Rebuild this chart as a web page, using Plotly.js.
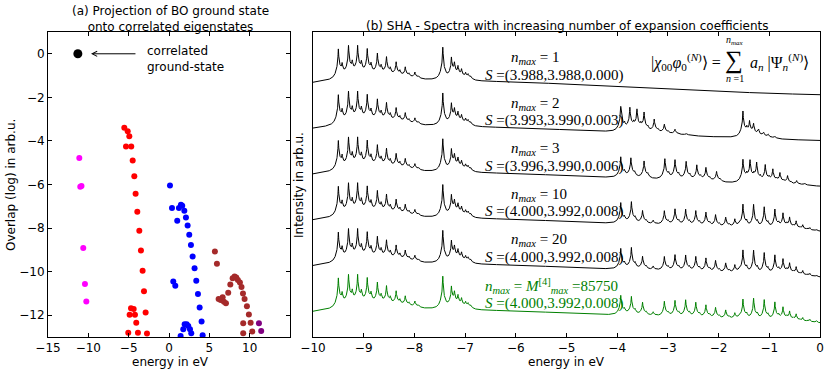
<!DOCTYPE html>
<html>
<head>
<meta charset="utf-8">
<script src="https://cdn.plot.ly/plotly-3.0.1.min.js"></script>
<style>
  html, body { margin: 0; padding: 0; background: white; }
  #plot { width: 830px; height: 372px; }
</style>
</head>
<body>
<div id="plot"></div>
<script>
// ---- (a) projection of BO ground state: energy (eV) vs log overlap ----
var gsE = [-11.3];
var gsO = [0];
var magE = [-11.12, -11.0, -10.85, -10.63, -10.42, -10.25];
var magO = [-4.78, -6.1, -6.07, -8.92, -10.57, -11.37];
var redE = [-5.54, -5.12, -4.92, -5.33, -4.68, -4.5, -4.3, -4.14, -3.93, -3.68, -3.48, -3.27, -3.1, -2.9,
            -4.71, -4.38, -4.88, -4.22, -4.06, -5.05, -3.85, -2.73];
var redO = [-3.39, -3.56, -3.79, -4.26, -4.26, -4.9, -5.62, -6.42, -7.25, -8.12, -9.03, -9.96, -10.9, -11.88,
            -11.68, -11.72, -11.98, -11.98, -12.35, -12.81, -12.8, -12.84];
var blueE = [0.12, 0.37, 1.23, 1.48, 1.64, 1.9, 1.02, 2.1, 2.31, 2.51, 2.72, 2.93, 3.17, 3.38, 3.59, 3.8, 4.04,
             0.53, 0.78, 1.94, 2.19, 2.39, 1.77, 2.6, 2.76, 1.44, 4.17];
var blueO = [-6.05, -7.08, -7.08, -6.93, -6.97, -7.2, -7.66, -7.51, -7.88, -8.31, -8.78, -9.3, -9.85, -10.42, -11.03, -11.65, -12.29,
             -10.45, -10.65, -12.41, -12.41, -12.49, -12.64, -12.64, -12.83, -12.95, -12.92];
var brownE = [5.69, 5.94, 7.89, 8.13, 8.34, 8.54, 7.6, 8.79, 8.99, 7.34, 9.17, 9.37, 6.65, 6.4, 6.15, 6.81, 7.06,
              9.66, 9.9, 9.2, 10.12, 9.2, 10.32];
var brownO = [-9.07, -9.64, -10.3, -10.22, -10.27, -10.38, -10.59, -10.5, -10.7, -10.97, -11.0, -11.26, -11.18, -11.3, -11.26, -11.38, -11.45,
              -11.59, -11.97, -12.37, -12.35, -12.83, -12.75];
var purpE = [11.15, 11.43];
var purpO = [-12.37, -12.72];

// ---- (b) spectra: peak positions (eV) and heights (arb.u.) ----
// comb and cluster shared by every spectrum
var combE = [-9.50, -9.30, -9.12, -8.93, -8.73, -8.55, -8.36, -8.18, -7.99];
var combH = [28, 29, 28, 25, 21, 18, 14, 10, 6];
var clusE = [-7.44, -7.27, -7.21, -7.14, -7.07, -6.99, -6.94, -6.89];
var clusH = [32, 19, 12, 10, 8, 5, 4, 3];
// satellite peak to the right of each main peak
var satShift = 0.075;
var satRatio = 0.35;
// slowly varying background bands: centre, height, width
var bgFloor = -17;
var bandC = [-7.5, -9.0];
var bandH = [16, 4];
var bandW = [3.8, 0.7];

// extra peaks between -4 and 0 eV for each n_max
var extraE = [
  [],
  [-3.93, -3.75, -3.61, -3.47, -3.27, -3.07, -2.86, -2.64, -1.52, -1.39, -1.31, -1.21, -1.11, -1.02, -0.89],
  [-3.93, -3.73, -3.47, -3.06, -2.86, -2.64, -2.43, -2.25, -2.04, -1.52, -1.38, -1.25, -1.08, -0.93, -0.79, -0.64, -0.46, -0.30],
  [-3.93, -3.72, -3.50, -3.29, -3.07, -2.86, -2.65, -2.45, -2.25, -2.06, -1.86, -1.68, -1.52, -1.31, -1.10, -0.89, -0.73, -0.60, -0.47, -0.34, -0.20, -0.07],
  [-3.93, -3.72, -3.50, -3.29, -3.07, -2.86, -2.65, -2.45, -2.25, -2.06, -1.86, -1.68, -1.52, -1.31, -1.10, -0.89, -0.73, -0.60, -0.47, -0.34, -0.20, -0.07],
  [-3.93, -3.72, -3.50, -3.29, -3.07, -2.86, -2.65, -2.45, -2.25, -2.06, -1.86, -1.68, -1.52, -1.31, -1.10, -0.89, -0.73, -0.60, -0.47, -0.34, -0.20, -0.07]
];
var extraH = [
  [],
  [24, 22, 20, 18, 13, 9, 5, 2, 25, 13, 9, 6, 4, 3, 2],
  [20, 19, 17, 20, 19, 18, 15, 13, 10, 22, 20, 18, 17, 13, 10, 8, 4, 2],
  [20, 21, 13, 4, 14, 16, 16, 15, 14, 12, 10, 8, 23, 23, 21, 19, 15, 11, 8, 5, 3, 2],
  [20, 21, 13, 4, 14, 16, 16, 15, 14, 12, 10, 8, 23, 23, 21, 19, 15, 11, 8, 5, 3, 2],
  [19, 18, 13, 4, 15, 16, 17, 15, 13, 11, 9, 6, 20, 21, 20, 18, 13, 9, 7, 4, 3, 2]
];
var nLabels = ['1', '2', '3', '10', '20', '<i>M</i><sup>[4]</sup><sub><i>max</i></sub> =85750'];
var sLabels = ['(3.988,3.988,0.000)', '(3.993,3.990,0.003)', '(3.996,3.990,0.006)',
               '(4.000,3.992,0.008)', '(4.000,3.992,0.008)', '(4.000,3.992,0.008)'];
var lineColors = ['black', 'black', 'black', 'black', 'black', 'rgb(0,128,0)'];

// line shape: sharp spike on a wider foot
var g1 = 0.008, g2 = 0.05, w1 = 0.52;
function peak(x, c, h) {
  var d2 = (x - c) * (x - c);
  return h * (w1 * g1 * g1 / (d2 + g1 * g1) + (1 - w1) * g2 * g2 / (d2 + g2 * g2));
}

var xs = [];
for (var i = 0; i <= 5000; i++) xs.push(-10 + i * 0.002);

function spectrum(pe, ph) {
  return xs.map(function (x) {
    var v = bgFloor;
    for (var b = 0; b < bandC.length; b++) {
      v += bandH[b] * Math.exp(-(x - bandC[b]) * (x - bandC[b]) / (2 * bandW[b] * bandW[b]));
    }
    for (var j = 0; j < combE.length; j++) {
      v += peak(x, combE[j], combH[j]) + peak(x, combE[j] + satShift, combH[j] * satRatio);
    }
    for (var j = 0; j < clusE.length; j++) v += peak(x, clusE[j], clusH[j]);
    for (var j = 0; j < pe.length; j++) {
      v += peak(x, pe[j], ph[j]) + peak(x, pe[j] + satShift, ph[j] * satRatio * 0.6);
    }
    return v;
  });
}

var spacing = 45.8;
var data = [];
function pts(xv, yv, color, size) {
  return {x: xv, y: yv, mode: 'markers', type: 'scatter', xaxis: 'x', yaxis: 'y',
          marker: {color: color, size: size}, hoverinfo: 'skip', showlegend: false};
}
data.push(pts(gsE, gsO, 'black', 9));
data.push(pts(magE, magO, '#ff00ff', 6));
data.push(pts(redE, redO, '#ff0000', 6));
data.push(pts(blueE, blueO, '#0000ff', 6));
data.push(pts(brownE, brownO, '#a52a2a', 6));
data.push(pts(purpE, purpO, '#800080', 6));

for (var k = 0; k < 6; k++) {
  var off = (5 - k) * spacing;
  data.push({
    x: xs, y: spectrum(extraE[k], extraH[k]).map(function (v) { return v + off; }),
    mode: 'lines', type: 'scatter', xaxis: 'x2', yaxis: 'y2',
    line: {color: lineColors[k], width: 1}, hoverinfo: 'skip', showlegend: false
  });
}

// pixel helpers for annotation placement
function px(v) { return v / 830; }
function py(v) { return 1 - v / 372; }
function note(x, y, text, opts) {
  return Object.assign({xref: 'paper', yref: 'paper', x: px(x), y: py(y), text: text,
    showarrow: false, xanchor: 'center', yanchor: 'middle'}, opts || {});
}

var serifFam = 'Liberation Serif, serif';
var annotations = [
  note(170, 19, '(a) Projection of BO ground state<br>onto correlated eigenstates'),
  note(567, 26, '(b) SHA - Spectra with increasing number of expansion coefficients'),
  note(170, 362, 'energy in eV'),
  note(566, 362, 'energy in eV'),
  note(11, 185, 'Overlap (log) in arb.u.', {textangle: -90}),
  note(299, 185, 'Intensity in arb.u.', {textangle: -90}),
  {xref: 'x', yref: 'y', x: -9.67, y: 0, ax: -3.97, ay: 0, axref: 'x', ayref: 'y', text: '',
   showarrow: true, arrowhead: 5, arrowsize: 1, arrowwidth: 1, arrowcolor: 'black'},
  note(145, 59, 'correlated<br>ground-state', {xanchor: 'left', align: 'left'}),
  // formula
  note(723, 62, '|<i>χ</i><sub>00</sub><i>φ</i><sub>0</sub><sup>(<i>N</i>)</sup>⟩ =',
       {xanchor: 'right', font: {family: serifFam, size: 16}}),
  note(734, 60, '∑', {font: {family: serifFam, size: 25}}),
  note(748, 62, '<i>a<sub>n</sub></i> |Ψ<sub><i>n</i></sub><sup>(<i>N</i>)</sup>⟩',
       {xanchor: 'left', font: {family: serifFam, size: 16}}),
  note(735, 40, '<i>n<sub>max</sub></i>', {font: {family: serifFam, size: 10}}),
  note(735, 78, '<i>n</i> =1', {font: {family: serifFam, size: 10}})
];
for (var k = 0; k < 6; k++) {
  var yy = 58 + k * 45.6;
  var col = lineColors[k];
  annotations.push(note(k === 5 ? 483 : 509, yy, '<i>n<sub>max</sub></i> = ' + nLabels[k],
    {xanchor: 'left', font: {family: serifFam, size: 15, color: col}}));
  annotations.push(note(483, yy + 17, '<i>S</i> =' + sLabels[k],
    {xanchor: 'left', font: {family: serifFam, size: 15, color: col}}));
}

var axisCommon = {showline: true, linecolor: 'black', linewidth: 1, mirror: 'ticks', ticks: 'inside',
                  ticklen: 4, tickcolor: 'black', showgrid: false, zeroline: false, tickfont: {size: 12}};
var layout = {
  width: 830, height: 372,
  margin: {l: 0, r: 0, t: 0, b: 0},
  paper_bgcolor: 'white', plot_bgcolor: 'white',
  font: {family: 'DejaVu Sans, sans-serif', size: 12, color: 'black'},
  showlegend: false,
  xaxis: Object.assign({}, axisCommon, {domain: [48 / 830, 290 / 830], range: [-15, 15],
    tickvals: [-15, -10, -5, 0, 5, 10], anchor: 'y'}),
  yaxis: Object.assign({}, axisCommon, {domain: [1 - 337 / 372, 1 - 32 / 372], range: [-13, 1],
    tickvals: [-12, -10, -8, -6, -4, -2, 0], anchor: 'x'}),
  xaxis2: Object.assign({}, axisCommon, {domain: [313 / 830, 820 / 830], range: [-10, 0],
    tickvals: [-10, -9, -8, -7, -6, -5, -4, -3, -2, -1, 0], anchor: 'y2'}),
  yaxis2: {domain: [1 - 337 / 372, 1 - 32 / 372], range: [-28, 277], anchor: 'x2',
    showline: true, linecolor: 'black', linewidth: 1, mirror: true, ticks: '',
    showticklabels: false, showgrid: false, zeroline: false},
  annotations: annotations
};

Plotly.newPlot('plot', data, layout, {staticPlot: true});
</script>
</body>
</html>
